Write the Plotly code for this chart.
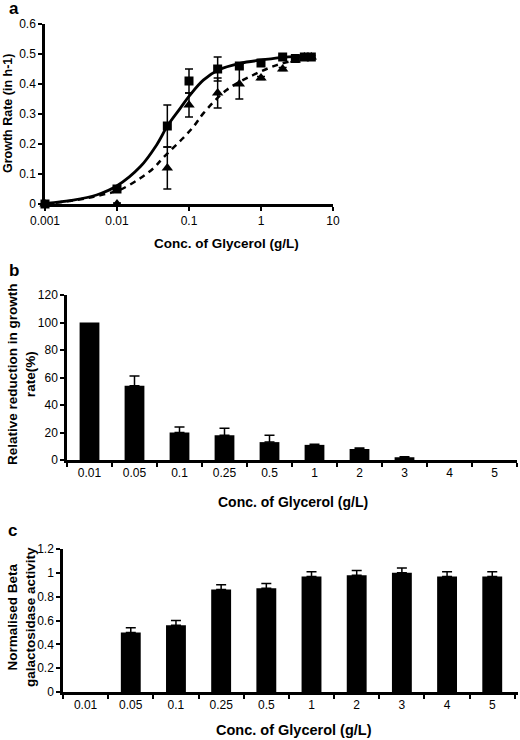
import plotly.graph_objects as go

# ---- Panel a data ----
conc_a = [0.001, 0.01, 0.05, 0.1, 0.25, 0.5, 1, 2, 3, 4, 5]
sq_y = [0.0, 0.05, 0.26, 0.41, 0.45, 0.46, 0.47, 0.49, 0.485, 0.49, 0.49]
sq_err = [0.003, 0.005, 0.07, 0.04, 0.04, 0.005, 0.005, 0.005, 0.005, 0.005, 0.005]
tri_y = [0.0, 0.0, 0.12, 0.33, 0.37, 0.40, 0.42, 0.45, 0.48, 0.49, 0.49]
tri_err = [0.003, 0.003, 0.07, 0.04, 0.05, 0.05, 0.005, 0.005, 0.005, 0.005, 0.005]

fit_solid_x = [0.001, 0.00247, 0.0052, 0.0099, 0.021, 0.0355, 0.051, 0.075, 0.103, 0.158, 0.255, 0.51, 1.02, 2.04, 5.0]
fit_solid_y = [0.002, 0.013, 0.03, 0.06, 0.124, 0.197, 0.263, 0.318, 0.363, 0.413, 0.447, 0.469, 0.48, 0.489, 0.493]
fit_dash_x = [0.001, 0.003, 0.006, 0.0109, 0.021, 0.032, 0.044, 0.083, 0.12, 0.158, 0.333, 0.78, 1.65, 3.1, 5.0]
fit_dash_y = [0.0, 0.015, 0.03, 0.047, 0.086, 0.119, 0.155, 0.22, 0.263, 0.302, 0.38, 0.43, 0.463, 0.48, 0.487]

# ---- Panel b / c data ----
cats = ["0.01", "0.05", "0.1", "0.25", "0.5", "1", "2", "3", "4", "5"]
red_vals = [100, 54, 20, 18, 13, 11, 8, 2, 0, 0]
red_err = [0, 7, 4, 5, 5, 0.5, 0.8, 0.4, 0, 0]
gal_vals = [0, 0.50, 0.56, 0.86, 0.87, 0.97, 0.98, 1.0, 0.97, 0.97]
gal_err = [0, 0.04, 0.04, 0.04, 0.04, 0.04, 0.04, 0.04, 0.04, 0.04]

W, H = 520, 740
def px(x):
    return x / W
def py(y):
    return 1 - y / H

FONT = "Liberation Sans, Arial, sans-serif"
fig = go.Figure()

fig.add_trace(go.Scatter(x=fit_dash_x, y=fit_dash_y, mode="lines", line_shape="spline",
                         line=dict(color="black", width=2.5, dash="6px,5px"),
                         xaxis="x", yaxis="y", showlegend=False))
fig.add_trace(go.Scatter(x=fit_solid_x, y=fit_solid_y, mode="lines", line_shape="spline",
                         line=dict(color="black", width=2.8),
                         xaxis="x", yaxis="y", showlegend=False))
fig.add_trace(go.Scatter(x=conc_a, y=tri_y, mode="markers",
                         marker=dict(symbol="triangle-up", size=10, color="black"),
                         error_y=dict(type="data", array=tri_err, color="black", thickness=1.5, width=4),
                         xaxis="x", yaxis="y", showlegend=False, cliponaxis=False))
fig.add_trace(go.Scatter(x=conc_a, y=sq_y, mode="markers",
                         marker=dict(symbol="square", size=9, color="black"),
                         error_y=dict(type="data", array=sq_err, color="black", thickness=1.5, width=4),
                         xaxis="x", yaxis="y", showlegend=False, cliponaxis=False))

def add_bars(vals, errs, xa, ya):
    fig.add_trace(go.Bar(x=cats, y=vals, marker=dict(color="black", line=dict(width=0)),
                         width=0.44, xaxis=xa, yaxis=ya, showlegend=False))
    ex = [c for c, e in zip(cats, errs) if e > 0]
    ey = [v for v, e in zip(vals, errs) if e > 0]
    ee = [e for e in errs if e > 0]
    fig.add_trace(go.Scatter(x=ex, y=ey, mode="markers", marker=dict(size=1, color="black", opacity=0),
                             error_y=dict(type="data", array=ee, arrayminus=[0] * len(ee),
                                          color="black", thickness=1.5, width=5),
                             xaxis=xa, yaxis=ya, showlegend=False))

add_bars(red_vals, red_err, "x2", "y2")
add_bars(gal_vals, gal_err, "x3", "y3")

axcommon = dict(showgrid=False, zeroline=False, showline=True, linecolor="black",
                linewidth=2.5, ticks="outside", tickcolor="black", tickwidth=2,
                ticklen=4, automargin=False,
                tickfont=dict(family=FONT, size=12, color="black"))
def tf(size):
    return dict(family=FONT, size=size, color="black", weight="bold")

fig.update_layout(
    width=W, height=H, margin=dict(l=0, r=0, t=0, b=0),
    plot_bgcolor="white", paper_bgcolor="white",
    font=dict(family=FONT, color="black"),
    xaxis=dict(domain=[px(45), px(333)], type="log", range=[-3, 1],
               tickvals=[0.001, 0.01, 0.1, 1, 10], ticktext=["0.001", "0.01", "0.1", "1", "10"],
               anchor="y", **axcommon),
    yaxis=dict(domain=[py(204), py(24)], range=[0, 0.6], dtick=0.1, anchor="x", **axcommon),
    xaxis2=dict(domain=[px(67), px(517)], type="category", tickson="boundaries",
                anchor="y2", **axcommon),
    yaxis2=dict(domain=[py(460), py(295)], range=[0, 120], dtick=20, anchor="x2", **axcommon),
    xaxis3=dict(domain=[px(63), px(518)], type="category", tickson="boundaries",
                anchor="y3", **axcommon),
    yaxis3=dict(domain=[py(692), py(549)], range=[0, 1.2], dtick=0.2, anchor="x3", **axcommon),
)

def ann(text, x, y, size, angle=0):
    fig.add_annotation(text=text, xref="paper", yref="paper", x=px(x), y=py(y),
                       xanchor="center", yanchor="middle", showarrow=False, textangle=angle,
                       font=tf(size))

ann("Conc. of Glycerol (g/L)", 226, 244, 13.5)
ann("Conc. of Glycerol (g/L)", 293, 502, 14)
ann("Conc. of Glycerol (g/L)", 294, 730, 14.5)
ann("Growth Rate (in h-1)", 8, 114, 12.5, -90)
ann("Relative reduction in growth<br>rate(%)", 22, 374, 13.5, -90)
ann("Normalised Beta<br>galactosidase activity", 21, 617, 13.5, -90)

for lab, xx, yy in [("a", 14, 8), ("b", 14, 270), ("c", 12, 530)]:
    ann(lab, xx, yy, 17)

fig.write_html("out.html", config={"displayModeBar": False},
               post_script="document.body.style.margin='0';document.body.style.padding='0';")
